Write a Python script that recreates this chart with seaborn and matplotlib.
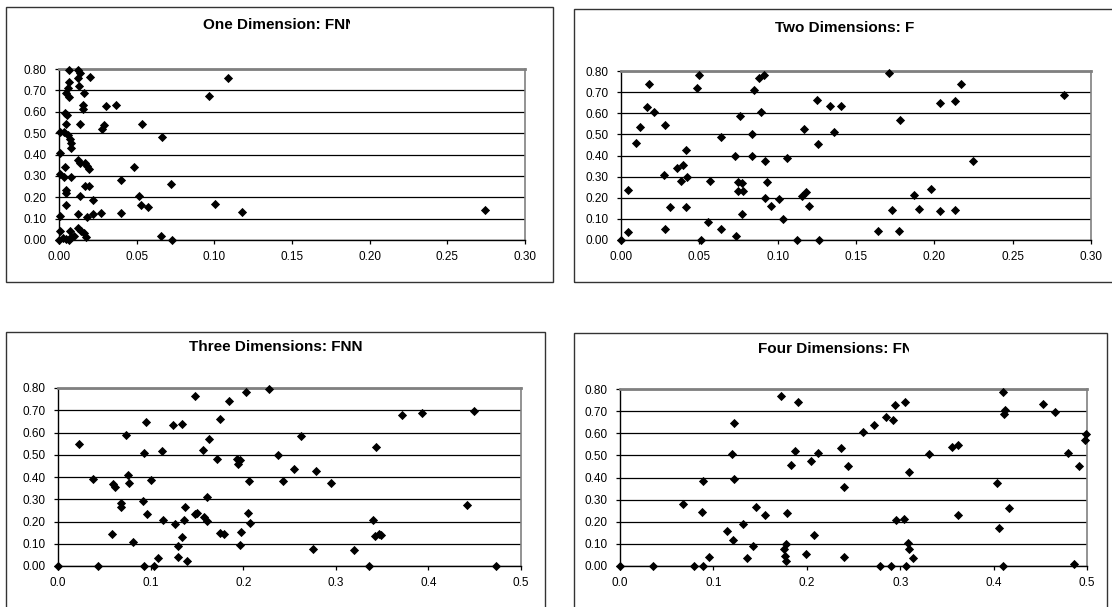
import numpy as np
import pandas as pd
import matplotlib
matplotlib.use("Agg")
import matplotlib.pyplot as plt
import seaborn as sns
from matplotlib.patches import Rectangle
from matplotlib.transforms import Bbox, TransformedBbox

# ---------------- data ----------------
titles = ["One Dimension: FNN", "Two Dimensions: FNN",
          "Three Dimensions: FNN", "Four Dimensions: FNN"]

x_one = [0.0062, 0.0122, 0.0138, 0.020, 0.0122, 0.109, 0.0062, 0.0131, 0.0057, 0.0048,
         0.0163, 0.0062, 0.0966, 0.0156, 0.0156, 0.030, 0.037, 0.0039, 0.0053, 0.0044,
         0.0138, 0.0287, 0.0276, 0.0533, 0.0007, 0.0034, 0.0057, 0.0069, 0.008, 0.0076,
         0.066, 0.0007, 0.0122, 0.0138, 0.0166, 0.018, 0.019, 0.048, 0.0039, 0.0007,
         0.003, 0.008, 0.040, 0.072, 0.0166, 0.019, 0.0048, 0.0044, 0.0138, 0.0218,
         0.0517, 0.053, 0.057, 0.0044, 0.1005, 0.118, 0.274, 0.0007, 0.0122, 0.018,
         0.0218, 0.027, 0.040, 0.0007, 0.007, 0.0122, 0.014, 0.0159, 0.0172, 0.008,
         0.0046, 0.0, 0.0062, 0.0655, 0.073, 0.0025, 0.0095]
y_one = [0.797, 0.794, 0.781, 0.764, 0.757, 0.757, 0.740, 0.721, 0.709, 0.690,
         0.687, 0.671, 0.676, 0.633, 0.611, 0.627, 0.631, 0.595, 0.586, 0.542,
         0.543, 0.539, 0.518, 0.542, 0.504, 0.504, 0.490, 0.472, 0.454, 0.430,
         0.480, 0.406, 0.375, 0.362, 0.359, 0.348, 0.334, 0.340, 0.343, 0.309,
         0.296, 0.296, 0.283, 0.260, 0.252, 0.253, 0.233, 0.220, 0.208, 0.189,
         0.208, 0.165, 0.154, 0.165, 0.170, 0.132, 0.139, 0.113, 0.120, 0.107,
         0.123, 0.128, 0.128, 0.041, 0.041, 0.054, 0.044, 0.033, 0.013, 0.013,
         0.006, 0.0, 0.0, 0.019, 0.0, 0.010, 0.020]

x_two = [0.0, 0.0045, 0.0045, 0.0097, 0.0119, 0.0164, 0.018, 0.0213, 0.028, 0.0274,
         0.028, 0.0312, 0.0355, 0.0393, 0.0384, 0.0422, 0.0415, 0.0415, 0.0496, 0.0483,
         0.0512, 0.0557, 0.057, 0.0638, 0.0638, 0.0728, 0.0737, 0.0757, 0.0748, 0.0773,
         0.0748, 0.078, 0.0773, 0.0838, 0.0838, 0.0851, 0.0883, 0.0914, 0.0892, 0.0921,
         0.093, 0.0921, 0.0957, 0.101, 0.1062, 0.1037, 0.1123, 0.1168, 0.1157, 0.1179,
         0.1201, 0.1249, 0.1258, 0.1262, 0.1332, 0.136, 0.1404, 0.1642, 0.1709, 0.1729,
         0.1779, 0.1776, 0.1873, 0.1902, 0.198, 0.2035, 0.2035, 0.2133, 0.2133, 0.2169,
         0.2246, 0.2825]
y_two = [0.0, 0.036, 0.237, 0.461, 0.535, 0.629, 0.737, 0.606, 0.544, 0.306,
         0.054, 0.155, 0.342, 0.355, 0.281, 0.300, 0.424, 0.155, 0.782, 0.719,
         0.0, 0.087, 0.281, 0.486, 0.054, 0.399, 0.017, 0.588, 0.276, 0.268,
         0.230, 0.230, 0.125, 0.503, 0.399, 0.711, 0.767, 0.782, 0.606, 0.372,
         0.273, 0.200, 0.161, 0.192, 0.386, 0.098, 0.0, 0.524, 0.207, 0.229,
         0.161, 0.661, 0.454, 0.0, 0.636, 0.511, 0.636, 0.043, 0.792, 0.142,
         0.568, 0.043, 0.211, 0.148, 0.241, 0.650, 0.136, 0.656, 0.142, 0.737,
         0.372, 0.685]

x_three = [0.0, 0.0227, 0.0382, 0.0428, 0.0598, 0.0613, 0.0582, 0.0682, 0.0682, 0.0736,
           0.0752, 0.0767, 0.081, 0.0914, 0.0925, 0.0925, 0.0948, 0.0964, 0.1006, 0.1037,
           0.108, 0.1122, 0.1137, 0.1237, 0.1261, 0.1292, 0.1292, 0.1334, 0.1338, 0.1361,
           0.1376, 0.1392, 0.1477, 0.148, 0.1503, 0.1561, 0.1577, 0.1608, 0.1608, 0.1635,
           0.1719, 0.175, 0.175, 0.1793, 0.1851, 0.1932, 0.1947, 0.1966, 0.1978, 0.1966,
           0.2028, 0.2047, 0.2062, 0.2074, 0.2278, 0.2375, 0.2433, 0.2544, 0.2629, 0.2756,
           0.2787, 0.2945, 0.320, 0.3362, 0.340, 0.3439, 0.342, 0.3466, 0.3485, 0.3713,
           0.3936, 0.4422, 0.4495, 0.473]
y_three = [0.0, 0.547, 0.392, 0.0, 0.368, 0.356, 0.143, 0.281, 0.266, 0.590,
           0.410, 0.374, 0.107, 0.291, 0.506, 0.0, 0.647, 0.233, 0.387, 0.0,
           0.036, 0.518, 0.207, 0.635, 0.191, 0.089, 0.041, 0.640, 0.131, 0.207,
           0.267, 0.024, 0.766, 0.234, 0.240, 0.523, 0.219, 0.309, 0.204, 0.571,
           0.480, 0.661, 0.150, 0.143, 0.743, 0.482, 0.458, 0.476, 0.155, 0.095,
           0.782, 0.237, 0.380, 0.195, 0.796, 0.498, 0.380, 0.434, 0.583, 0.077,
           0.426, 0.374, 0.072, 0.0, 0.207, 0.535, 0.135, 0.143, 0.140, 0.677,
           0.688, 0.273, 0.695, 0.0]

x_four = [0.0, 0.0358, 0.0678, 0.0791, 0.0878, 0.0889, 0.0889, 0.0953, 0.1149, 0.1198,
          0.121, 0.1221, 0.1221, 0.1319, 0.136, 0.1428, 0.1458, 0.1556, 0.1726, 0.1756,
          0.1778, 0.1767, 0.1778, 0.179, 0.1827, 0.1876, 0.1903, 0.1989, 0.2046, 0.2076,
          0.2125, 0.237, 0.2396, 0.2396, 0.2445, 0.2607, 0.2717, 0.2788, 0.2852, 0.2901,
          0.2928, 0.2939, 0.2954, 0.3041, 0.3052, 0.3063, 0.3086, 0.309, 0.3097, 0.3139,
          0.3308, 0.3553, 0.3621, 0.3621, 0.4039, 0.4062, 0.4103, 0.4115, 0.4126, 0.4103,
          0.4164, 0.4533, 0.4657, 0.480, 0.4857, 0.4913, 0.4977, 0.4992]
y_four = [0.0, 0.0, 0.279, 0.0, 0.243, 0.385, 0.0, 0.041, 0.160, 0.504,
          0.119, 0.391, 0.646, 0.190, 0.035, 0.089, 0.267, 0.229, 0.767, 0.075,
          0.098, 0.045, 0.023, 0.238, 0.457, 0.522, 0.743, 0.053, 0.475, 0.142,
          0.510, 0.534, 0.356, 0.041, 0.451, 0.605, 0.637, 0.0, 0.672, 0.0,
          0.660, 0.726, 0.207, 0.213, 0.743, 0.0, 0.103, 0.427, 0.075, 0.035,
          0.506, 0.540, 0.545, 0.231, 0.373, 0.172, 0.785, 0.688, 0.706, 0.0,
          0.260, 0.732, 0.696, 0.512, 0.011, 0.451, 0.571, 0.596]

xticks_small = [0.00, 0.05, 0.10, 0.15, 0.20, 0.25, 0.30]
xticks_large = [0.0, 0.1, 0.2, 0.3, 0.4, 0.5]
yticks = [0.0, 0.1, 0.2, 0.3, 0.4, 0.5, 0.6, 0.7, 0.8]

# ---------------- figure ----------------
sns.set_style("white")
plt.rcParams['font.family'] = ['Liberation Sans', 'DejaVu Sans']

W, H = 1112, 607
fig = plt.figure(figsize=(W / 100, H / 100), dpi=100)


def fx(px):
    return px / W


def fy(py):
    return 1 - py / H


# (plot left, top, right, bottom) in pixels; chart box; title centre / clip edge
panels = [
    dict(x=x_one, y=y_one, ticks=xticks_small, fmt="{:.2f}", plot=(59, 69, 525, 240),
         box=(6, 7, 553, 282), tx=280, ty=25, clip=350),
    dict(x=x_two, y=y_two, ticks=xticks_small, fmt="{:.2f}", plot=(621, 71, 1091, 240),
         box=(574, 9, 1138, 282), tx=856, ty=28, clip=915),
    dict(x=x_three, y=y_three, ticks=xticks_large, fmt="{:.1f}", plot=(58, 388, 521, 566),
         box=(6, 332, 545, 615), tx=276, ty=347, clip=420),
    dict(x=x_four, y=y_four, ticks=xticks_large, fmt="{:.1f}", plot=(620, 389, 1087, 566),
         box=(574, 333, 1107, 615), tx=841, ty=349, clip=909),
]

for i, p in enumerate(panels):
    # outer chart box
    bx0, by0, bx1, by1 = p["box"]
    fig.patches.append(Rectangle((fx(bx0), fy(by1)), fx(bx1 - bx0), (by1 - by0) / H,
                                 transform=fig.transFigure, fill=False,
                                 edgecolor="#333333", linewidth=1.0, zorder=0))
    px0, py0, px1, py1 = p["plot"]
    ax = fig.add_axes([fx(px0), fy(py1), fx(px1 - px0), (py1 - py0) / H])
    df = pd.DataFrame({"x": p["x"], "y": p["y"]})
    sns.scatterplot(data=df, x="x", y="y", ax=ax, marker="D", color="black",
                    s=22, linewidth=0, clip_on=False, zorder=5, legend=False)
    ax.set_xlim(p["ticks"][0], p["ticks"][-1])
    ax.set_ylim(0, 0.8)
    ax.set_xticks(p["ticks"])
    ax.set_xticklabels([p["fmt"].format(t) for t in p["ticks"]])
    ax.set_yticks(yticks)
    ax.set_yticklabels(["{:.2f}".format(t) for t in yticks])
    ax.set_xlabel("")
    ax.set_ylabel("")
    ax.set_axisbelow(True)
    ax.yaxis.grid(True, color="black", linewidth=0.9)
    ax.xaxis.grid(False)
    ax.spines["left"].set_color("black")
    ax.spines["bottom"].set_color("black")
    ax.spines["left"].set_linewidth(1.0)
    ax.spines["bottom"].set_linewidth(1.0)
    ax.spines["top"].set_color("#808080")
    ax.spines["top"].set_linewidth(2.0)
    ax.spines["right"].set_color("#808080")
    ax.spines["right"].set_linewidth(1.2)
    for s in ax.spines.values():
        s.set_visible(True)
    ax.tick_params(axis="both", direction="out", length=3, width=0.9, color="black",
                   labelsize=8.5, labelcolor="black")
    ax.tick_params(axis="x", pad=5, bottom=True)
    ax.tick_params(axis="y", pad=6, left=True)

    t = fig.text(fx(p["tx"]), fy(p["ty"]), titles[i], ha="center", va="center",
                 fontsize=11, fontweight="bold", color="black")
    clipbox = TransformedBbox(Bbox.from_extents(fx(p["tx"] - 150), fy(p["ty"] + 15),
                                                fx(p["clip"]), fy(p["ty"] - 15)),
                              fig.transFigure)
    t.set_clip_box(clipbox)
    t.set_clip_on(True)

fig.savefig("out.png", dpi=100, facecolor="white")
